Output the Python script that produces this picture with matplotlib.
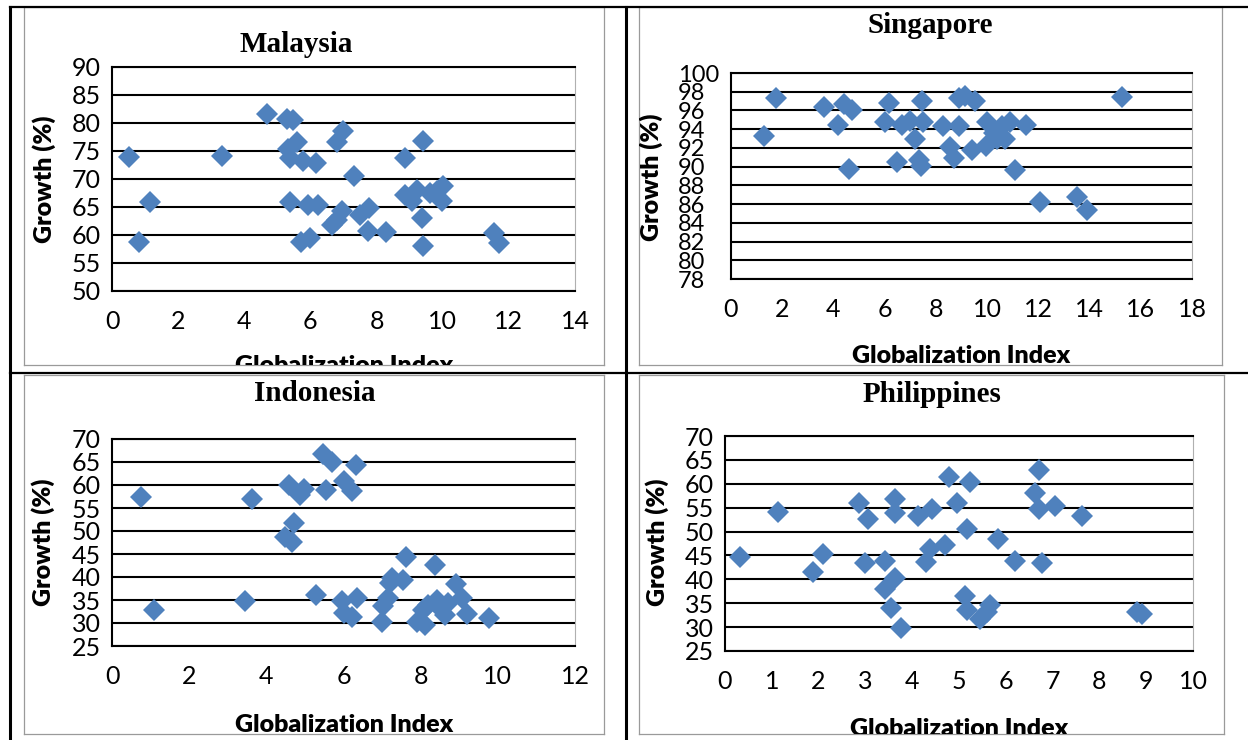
import matplotlib.pyplot as plt
import numpy as np

W, H = 1248, 740
BLUE = "#4f81bd"
SANS = "Lato"
SERIF = "Liberation Serif"

# Malaysia
mys_x = [0.50, 0.81, 1.14, 3.32, 4.68, 5.28, 5.48, 5.33, 5.58, 5.38, 5.78, 6.17,
         5.38, 5.93, 6.24, 5.70, 5.98, 6.79, 6.99, 7.33, 6.64, 6.79, 6.94, 7.50,
         7.78, 7.75, 8.30, 8.86, 8.86, 9.06, 9.21, 9.41, 9.36, 9.39, 9.62, 9.82,
         9.97, 10.02, 11.55, 11.71]
mys_y = [74.0, 58.8, 65.9, 74.1, 81.6, 80.7, 80.5, 75.4, 76.6, 73.7, 73.3, 72.9,
         65.9, 65.3, 65.3, 58.7, 59.5, 76.6, 78.6, 70.5, 61.7, 62.7, 64.2, 63.5,
         64.8, 60.7, 60.6, 73.7, 67.2, 66.0, 68.1, 76.8, 63.0, 58.1, 67.5, 67.8,
         66.0, 68.8, 60.3, 58.5]

# Singapore
sgp_x = [1.30, 1.77, 3.64, 4.18, 4.43, 4.72, 4.59, 6.18, 6.03, 6.48, 6.68, 7.00,
         7.20, 7.46, 7.50, 7.33, 7.42, 8.28, 8.56, 8.72, 8.89, 8.89, 9.15, 9.54,
         9.41, 10.00, 9.97, 10.26, 10.39, 10.58, 10.71, 10.91, 11.10, 11.53, 12.08,
         13.51, 13.90, 15.27]
sgp_y = [93.3, 97.3, 96.4, 94.4, 96.7, 96.1, 89.8, 96.8, 94.8, 90.5, 94.5, 94.9,
         92.9, 97.0, 94.8, 90.7, 90.1, 94.3, 92.1, 90.9, 94.3, 97.3, 97.5, 97.0,
         91.8, 94.8, 92.2, 93.6, 92.9, 94.3, 93.0, 94.8, 89.6, 94.5, 86.25,
         86.8, 85.4, 97.4]

# Indonesia
idn_x = [0.76, 1.08, 3.45, 3.63, 4.60, 4.72, 4.49, 4.66, 4.88, 4.98, 5.48, 5.70,
         5.55, 6.00, 6.22, 6.33, 5.29, 5.96, 6.00, 6.22, 6.35, 6.99, 7.03, 7.16,
         7.21, 7.25, 7.53, 7.62, 7.90, 8.10, 8.07, 8.20, 8.37, 8.42, 8.50, 8.63,
         8.72, 8.92, 9.06, 9.19, 9.78]
idn_y = [57.5, 32.8, 34.8, 57.0, 60.1, 51.7, 48.8, 47.6, 57.9, 59.2, 66.7, 65.0,
         59.0, 60.8, 58.6, 64.3, 36.1, 34.7, 32.1, 31.2, 35.4, 30.2, 33.6, 35.5,
         38.6, 39.7, 39.4, 44.3, 30.3, 29.6, 32.8, 33.9, 42.6, 35.0, 33.2, 31.8,
         34.3, 38.4, 35.4, 31.9, 31.0]

# Philippines
phl_x = [0.32, 1.14, 1.87, 2.10, 2.87, 3.06, 2.99, 3.42, 3.41, 3.64, 3.54, 3.76,
         3.64, 3.64, 4.13, 4.42, 4.30, 4.38, 4.70, 4.78, 4.95, 5.24, 5.17, 5.13,
         5.17, 5.45, 5.60, 5.67, 5.84, 6.20, 6.63, 6.70, 6.70, 6.77, 7.06, 7.63,
         8.80, 8.91]
phl_y = [44.6, 54.0, 41.6, 45.2, 55.9, 52.7, 43.5, 43.8, 37.9, 40.2, 34.0, 29.8,
         56.8, 53.8, 53.3, 54.8, 43.7, 46.3, 47.1, 61.5, 55.9, 60.3, 50.6, 36.5,
         33.5, 31.8, 33.2, 34.6, 48.4, 43.8, 58.0, 62.9, 54.8, 43.5, 55.4, 53.3,
         33.2, 32.8]

panels = [
    # name, data, axis ranges, chart box / plot box / text anchors in image pixels
    dict(name="Malaysia", x=mys_x, y=mys_y, xmax=14, xstep=2, ylim=(50, 90), ystep=5,
         chart=(24, 7, 604, 365), plot=(112, 67, 575, 291),
         title=(296, 52), ylab=(44, 179), xlab=(344, 373), left_ticks=False),
    dict(name="Singapore", x=sgp_x, y=sgp_y, xmax=18, xstep=2, ylim=(78, 100), ystep=2,
         chart=(639, 7, 1222, 365), plot=(731, 73, 1192, 279),
         title=(930, 33), ylab=(651, 177), xlab=(961, 363), left_ticks=True),
    dict(name="Indonesia", x=idn_x, y=idn_y, xmax=12, xstep=2, ylim=(25, 70), ystep=5,
         chart=(24, 375, 604, 734), plot=(112, 439, 575, 646),
         title=(315, 401), ylab=(43, 542), xlab=(344, 732), left_ticks=False),
    dict(name="Philippines", x=phl_x, y=phl_y, xmax=10, xstep=1, ylim=(25, 70), ystep=5,
         chart=(639, 375, 1224, 734), plot=(725, 436, 1193, 651),
         title=(932, 402), ylab=(657, 542), xlab=(959, 736), left_ticks=False),
]


def frac(x0, y0, x1, y1):
    return [x0 / W, 1 - y1 / H, (x1 - x0) / W, (y1 - y0) / H]


fig = plt.figure(figsize=(W / 100, H / 100), dpi=100)
fig.patch.set_facecolor("white")

for p in panels:
    # chart area (thin grey frame), coordinates in image pixels
    x0, y0, x1, y1 = p["chart"]
    bg = fig.add_axes(frac(*p["chart"]))
    bg.set_xlim(x0, x1)
    bg.set_ylim(y1, y0)
    bg.set_xticks([])
    bg.set_yticks([])
    for s in bg.spines.values():
        s.set_color("#9a9a9a")
        s.set_linewidth(0.9)

    bg.text(p["title"][0], p["title"][1], p["name"], ha="center", va="baseline",
            fontsize=21, fontweight="bold", family=SERIF, clip_on=True)
    bg.text(p["ylab"][0], p["ylab"][1], "Growth (%)", ha="center", va="center",
            rotation=90, fontsize=18, fontweight="heavy", family=SANS, clip_on=True)
    bg.text(p["xlab"][0], p["xlab"][1], "Globalization Index", ha="center",
            va="baseline", fontsize=18, fontweight="heavy", family=SANS, clip_on=True)

    ax = fig.add_axes(frac(*p["plot"]))
    ax.plot(p["x"], p["y"], ls="none", marker="D", ms=11, color=BLUE,
            mec=BLUE, mew=0, zorder=3)
    ax.set_xlim(0, p["xmax"])
    ax.set_xticks(np.arange(0, p["xmax"] + 0.1, p["xstep"]))
    ax.set_ylim(*p["ylim"])
    ax.set_yticks(np.arange(p["ylim"][0], p["ylim"][1] + 0.1, p["ystep"]))
    ax.yaxis.grid(True, color="black", lw=1.5)
    ax.set_axisbelow(True)
    for side in ("left", "bottom", "top"):
        ax.spines[side].set_color("black")
        ax.spines[side].set_linewidth(1.5)
    ax.spines["right"].set_color("#b0b0b0")
    ax.spines["right"].set_linewidth(0.8)
    ax.tick_params(axis="both", length=0, labelsize=18)
    ax.tick_params(axis="x", pad=14)
    ax.tick_params(axis="y", pad=38 if p["left_ticks"] else 8)
    for lbl in ax.get_xticklabels() + ax.get_yticklabels():
        lbl.set_family(SANS)
    if p["left_ticks"]:
        # crowded labels, as in the original
        ax.tick_params(axis="y", labelsize=17)
        for lbl in ax.get_yticklabels():
            lbl.set_ha("left")

# table borders
ov = fig.add_axes([0, 0, 1, 1])
ov.set_xlim(0, W)
ov.set_ylim(H, 0)
ov.axis("off")
ov.patch.set_visible(False)
ov.plot([10, 10], [7, H], color="black", lw=2.2)
ov.plot([626, 626], [7, H], color="black", lw=2.2)
ov.plot([10, W], [7, 7], color="black", lw=1.6)
ov.plot([10, W], [373, 373], color="black", lw=1.6)

fig.savefig("out.png", dpi=100)
